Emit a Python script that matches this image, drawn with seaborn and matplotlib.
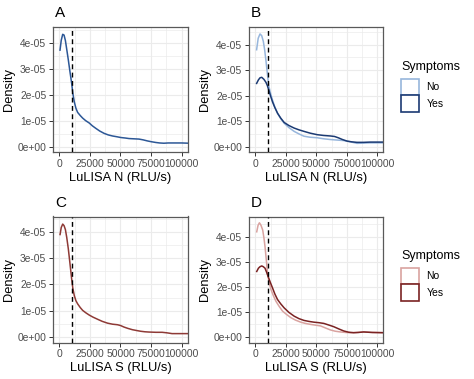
import matplotlib
matplotlib.use("Agg")
import matplotlib.pyplot as plt
import numpy as np
import pandas as pd
import seaborn as sns
from matplotlib.patches import Patch

# ---- values (x in RLU/s, density in 1e-05 units) ----
a_x = [500, 1500, 2700, 3800, 4900, 6000, 7300, 8600, 10000, 11000, 12200, 13500,
       14900, 17000, 19000, 21500, 24400, 27000, 29900, 33000, 36600, 40000, 43400,
       47000, 50200, 54000, 57000, 61000, 65100, 68500, 71900, 75000, 78700, 82000,
       85500, 89000, 92200, 100000, 106000]
a_y = [3.72, 4.10, 4.33, 4.30, 4.09, 3.75, 3.34, 2.90, 2.45, 2.05, 1.72, 1.48,
       1.32, 1.20, 1.10, 1.00, 0.91, 0.80, 0.70, 0.60, 0.51, 0.45, 0.41,
       0.38, 0.35, 0.33, 0.31, 0.30, 0.29, 0.26, 0.22, 0.19, 0.16, 0.14,
       0.13, 0.14, 0.14, 0.14, 0.13]

b_no_x = [1000, 2300, 3800, 5200, 6500, 7600, 8700, 9800, 10900, 12500, 14100, 16000,
          18200, 20800, 23600, 27500, 31800, 35800, 39900, 45000, 50800, 56000, 61600,
          67000, 72500, 78000, 83400, 88800, 94200, 100000, 106000]
b_no_y = [3.80, 4.25, 4.42, 4.35, 4.13, 3.80, 3.36, 2.88, 2.40, 2.08, 1.82, 1.55,
          1.31, 1.10, 0.92, 0.75, 0.60, 0.50, 0.41, 0.37, 0.35, 0.31, 0.28,
          0.26, 0.24, 0.19, 0.13, 0.14, 0.15, 0.15, 0.15]
b_yes_x = [1000, 2500, 3800, 5200, 7000, 8700, 9800, 10900, 12500, 14100, 16000, 18200,
           20800, 23600, 27500, 31800, 35800, 39900, 45000, 50800, 56000, 61600, 65000,
           68000, 71500, 75200, 79000, 83400, 88800, 94200, 100000, 106000]
b_yes_y = [2.48, 2.62, 2.70, 2.72, 2.64, 2.52, 2.40, 2.23, 1.98, 1.75, 1.53, 1.31,
           1.12, 0.95, 0.83, 0.73, 0.66, 0.60, 0.53, 0.47, 0.44, 0.42, 0.40,
           0.35, 0.28, 0.22, 0.19, 0.17, 0.17, 0.18, 0.18, 0.18]

c_x = [540, 1500, 2700, 3800, 4900, 6000, 7300, 8600, 10000, 11000, 12200, 13500,
       14900, 17000, 19000, 21500, 24400, 27500, 31200, 35000, 39400, 43500, 47500,
       50000, 52900, 56000, 59700, 63000, 66500, 70000, 73300, 79000, 84100, 88000,
       92200, 100000, 106000]
c_y = [3.91, 4.18, 4.31, 4.25, 4.10, 3.80, 3.36, 2.82, 2.22, 1.85, 1.57, 1.38,
       1.26, 1.12, 1.01, 0.92, 0.83, 0.75, 0.67, 0.59, 0.52, 0.48, 0.46,
       0.43, 0.37, 0.32, 0.27, 0.24, 0.21, 0.19, 0.18, 0.17, 0.17, 0.15,
       0.12, 0.12, 0.12]

d_no_x = [1100, 2200, 3300, 4600, 6000, 7000, 7900, 9000, 10100, 11400, 12800, 14800,
          16900, 19500, 22300, 25500, 29100, 33000, 37200, 41000, 45400, 49500, 53500,
          57500, 61600, 65500, 69800, 74000, 78000, 83000, 88800, 96000, 106000]
d_no_y = [4.19, 4.45, 4.55, 4.45, 4.26, 3.95, 3.60, 3.05, 2.48, 2.15, 1.89, 1.64,
          1.42, 1.22, 1.03, 0.90, 0.77, 0.67, 0.59, 0.54, 0.50, 0.47, 0.44,
          0.36, 0.28, 0.23, 0.20, 0.18, 0.17, 0.18, 0.20, 0.18, 0.17]
d_yes_x = [1100, 2500, 3800, 5200, 6500, 7900, 9200, 10600, 12300, 14100, 16000, 18200,
           20800, 23600, 27500, 31800, 35800, 39900, 44000, 48000, 52000, 56200, 60000,
           64300, 68500, 72500, 76500, 80600, 84500, 88800, 96000, 106000]
d_yes_y = [2.61, 2.74, 2.80, 2.83, 2.80, 2.74, 2.58, 2.39, 2.17, 1.95, 1.71, 1.49,
           1.32, 1.16, 0.98, 0.83, 0.73, 0.66, 0.62, 0.59, 0.57, 0.54, 0.48,
           0.41, 0.32, 0.24, 0.19, 0.17, 0.18, 0.20, 0.18, 0.17]

x_ticks = [0, 25000, 50000, 75000, 100000]
y_ticks = [0, 1e-05, 2e-05, 3e-05, 4e-05]
y_tick_labels = ["0e+00", "1e-05", "2e-05", "3e-05", "4e-05"]
cutoff = 10000
symptoms = ["No", "Yes"]

blue_single = "#2c5796"
blue_pal = {"No": "#97b6dc", "Yes": "#1b3a73"}
red_single = "#8e3a36"
red_pal = {"No": "#d9a3a0", "Yes": "#7a2222"}

FONT = ["Liberation Sans", "DejaVu Sans"]
plt.rcParams["font.family"] = FONT
GRID = "#ebebeb"
TICK_GREY = "#4d4d4d"

W, H = 474, 379
fig = plt.figure(figsize=(W / 100, H / 100), dpi=100)


def px_axes(left, top, right, bottom):
    return fig.add_axes([left / W, 1 - bottom / H, (right - left) / W, (bottom - top) / H])


def long_df(pairs):
    frames = []
    for name, xs, ys in pairs:
        frames.append(pd.DataFrame({"x": xs, "y": np.array(ys) * 1e-05, "Symptoms": name}))
    return pd.concat(frames, ignore_index=True)


def style(ax, xlabel, ymax):
    ax.set_xlim(-5000, 105000)
    ax.set_ylim(-0.22e-05, ymax)
    ax.set_xticks(x_ticks)
    ax.set_xticklabels([str(t) for t in x_ticks])
    ax.set_yticks(y_ticks)
    ax.set_yticklabels(y_tick_labels)
    ax.set_xticks([-12500 + 25000 * i for i in range(1, 5)], minor=True)
    ax.set_yticks([0.5e-05, 1.5e-05, 2.5e-05, 3.5e-05, 4.5e-05], minor=True)
    ax.grid(True, which="major", color=GRID, linewidth=0.8)
    ax.grid(True, which="minor", color=GRID, linewidth=0.5)
    ax.set_axisbelow(True)
    ax.set_facecolor("white")
    ax.tick_params(axis="both", which="major", labelsize=7.4, colors="#333333",
                   labelcolor=TICK_GREY, length=3, width=0.7, pad=2)
    ax.tick_params(axis="both", which="minor", length=0)
    for s in ax.spines.values():
        s.set_visible(True)
        s.set_color("#595959")
        s.set_linewidth(0.9)
    ax.set_xlabel(xlabel, fontsize=9.3, labelpad=2)
    ax.set_ylabel("Density", fontsize=9.3, labelpad=1.5)
    ax.axvline(cutoff, color="black", linestyle=(0, (3.5, 2.5)), linewidth=1.0, zorder=3)


panels = {
    "A": (53.3, 27.3, 187.7, 152.3),
    "B": (249.3, 27.3, 383.3, 152.3),
    "C": (53.3, 216.5, 187.7, 342.5),
    "D": (249.3, 216.5, 383.3, 342.5),
}

# A
ax = px_axes(*panels["A"])
sns.lineplot(data=long_df([("All", a_x, a_y)]), x="x", y="y", color=blue_single,
             linewidth=1.1, ax=ax, sort=False)
style(ax, "LuLISA N (RLU/s)", 4.6e-05)

# B
ax = px_axes(*panels["B"])
sns.lineplot(data=long_df([("No", b_no_x, b_no_y), ("Yes", b_yes_x, b_yes_y)]),
             x="x", y="y", hue="Symptoms", palette=blue_pal, linewidth=1.1,
             ax=ax, sort=False, legend=False)
style(ax, "LuLISA N (RLU/s)", 4.68e-05)

# C
ax = px_axes(*panels["C"])
sns.lineplot(data=long_df([("All", c_x, c_y)]), x="x", y="y", color=red_single,
             linewidth=1.1, ax=ax, sort=False)
style(ax, "LuLISA S (RLU/s)", 4.6e-05)

# D
ax = px_axes(*panels["D"])
sns.lineplot(data=long_df([("No", d_no_x, d_no_y), ("Yes", d_yes_x, d_yes_y)]),
             x="x", y="y", hue="Symptoms", palette=red_pal, linewidth=1.1,
             ax=ax, sort=False, legend=False)
style(ax, "LuLISA S (RLU/s)", 4.8e-05)

# panel tags
for tag, (l, t, r, b) in panels.items():
    fig.text((l + 1.5) / W, 1 - (t - 14) / H, tag, fontsize=11, ha="left", va="center")

# legends
for pal, top in [(blue_pal, 61), (red_pal, 250)]:
    handles = [Patch(facecolor="white", edgecolor=pal[k], linewidth=1.2, label=k)
               for k in symptoms]
    leg = fig.legend(handles=handles, title="Symptoms", loc="upper left",
                     bbox_to_anchor=(401 / W, 1 - top / H), frameon=False,
                     fontsize=7.5, title_fontsize=9, handlelength=1.75,
                     handleheight=2.1, labelspacing=0.0, handletextpad=0.7,
                     borderpad=0, borderaxespad=0)
    leg._legend_box.align = "left"
    leg._legend_box.sep = 4

fig.savefig("out.png", dpi=100)
